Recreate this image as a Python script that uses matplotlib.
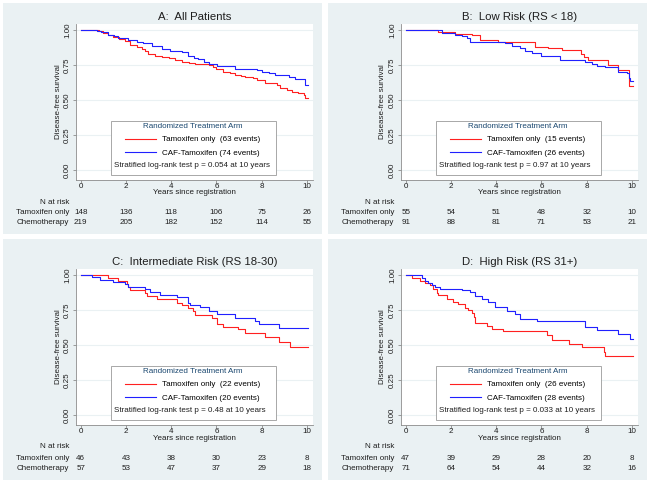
import matplotlib
matplotlib.use('Agg')
import matplotlib.pyplot as plt
from matplotlib.patches import Rectangle
from matplotlib.transforms import blended_transform_factory

plt.rcParams['font.family'] = ['Liberation Sans', 'DejaVu Sans']

# Data
titles = ['A:  All Patients', 'B:  Low Risk (RS < 18)',
          'C:  Intermediate Risk (RS 18-30)', 'D:  High Risk (RS 31+)']

tam_t = [
    [0, 0.5, 0.8, 1.0, 1.22, 1.44, 1.7, 1.96, 2.18, 2.5, 2.7, 2.85, 2.99, 3.29, 3.6, 3.9,
     4.17, 4.47, 4.8, 5.06, 5.65, 5.85, 6.0, 6.31, 6.6, 6.83, 7.1, 7.27, 7.6, 7.79, 8.15,
     8.67, 8.82, 9.1, 9.33, 9.6, 9.85, 9.92, 10.05],
    [0, 1.44, 2.18, 2.92, 3.28, 4.1, 5.72, 6.31, 6.9, 7.75, 7.9, 8.05, 8.95, 9.4, 9.85, 10.05],
    [0, 1.22, 1.66, 2.03, 2.11, 2.18, 2.84, 2.92, 3.36, 4.25, 4.47, 4.76, 4.98, 5.06, 5.8,
     6.02, 6.31, 6.97, 7.27, 8.15, 8.75, 9.26, 10.05],
    [0, 0.26, 0.63, 0.85, 1.07, 1.22, 1.37, 1.44, 1.81, 2.11, 2.33, 2.62, 2.77, 2.92, 3.0,
     3.07, 3.58, 3.8, 4.32, 6.24, 6.46, 7.2, 7.79, 8.75, 8.8, 10.05],
]
tam_s = [
    [1.0, 0.997, 0.99, 0.98, 0.965, 0.947, 0.935, 0.924, 0.89, 0.882, 0.866, 0.85, 0.828,
     0.812, 0.806, 0.797, 0.788, 0.772, 0.765, 0.755, 0.750, 0.735, 0.722, 0.70, 0.69,
     0.681, 0.672, 0.664, 0.655, 0.642, 0.622, 0.610, 0.585, 0.573, 0.558, 0.552, 0.538,
     0.512, 0.512],
    [1.0, 0.983, 0.971, 0.964, 0.929, 0.912, 0.881, 0.871, 0.855, 0.83, 0.805, 0.785,
     0.752, 0.712, 0.603, 0.603],
    [1.0, 0.981, 0.957, 0.933, 0.914, 0.893, 0.874, 0.850, 0.826, 0.802, 0.785, 0.766,
     0.743, 0.712, 0.695, 0.652, 0.628, 0.611, 0.583, 0.559, 0.525, 0.488, 0.488],
    [1.0, 0.981, 0.957, 0.945, 0.928, 0.897, 0.874, 0.855, 0.826, 0.810, 0.790, 0.766,
     0.748, 0.731, 0.70, 0.659, 0.636, 0.616, 0.600, 0.569, 0.535, 0.509, 0.486, 0.45,
     0.425, 0.425],
]
caf_t = [
    [0, 0.71, 0.9, 1.22, 1.45, 1.66, 2.11, 2.5, 2.77, 3.14, 3.58, 3.95, 4.47, 4.76, 5.0,
     5.2, 5.45, 5.65, 6.02, 6.83, 7.79, 8.01, 8.3, 8.6, 9.2, 9.48, 9.92, 10.05],
    [0, 1.6, 2.18, 2.48, 2.7, 2.84, 4.4, 4.7, 5.06, 5.28, 5.57, 6.0, 6.8, 7.93, 8.23,
     8.45, 8.82, 9.4, 9.8, 9.85, 9.92, 10.05],
    [0, 0.49, 0.85, 1.44, 1.96, 2.11, 2.84, 3.07, 3.51, 4.25, 4.76, 4.84, 5.28, 5.65,
     6.02, 6.83, 7.71, 7.86, 8.75, 10.05],
    [0, 0.71, 0.85, 1.0, 1.15, 1.29, 1.51, 2.48, 2.84, 3.07, 3.36, 3.65, 3.95, 4.47,
     4.84, 5.06, 5.8, 7.93, 8.45, 9.4, 9.92, 10.05],
]
caf_s = [
    [1.0, 0.995, 0.985, 0.967, 0.955, 0.943, 0.928, 0.918, 0.907, 0.886, 0.867, 0.848,
     0.843, 0.812, 0.800, 0.790, 0.775, 0.760, 0.740, 0.724, 0.717, 0.697, 0.690, 0.676,
     0.666, 0.648, 0.610, 0.610],
    [1.0, 0.976, 0.964, 0.957, 0.94, 0.914, 0.905, 0.886, 0.869, 0.852, 0.833, 0.817,
     0.786, 0.774, 0.757, 0.745, 0.733, 0.698, 0.69, 0.655, 0.636, 0.636],
    [1.0, 0.985, 0.964, 0.95, 0.933, 0.914, 0.897, 0.878, 0.857, 0.843, 0.802, 0.783,
     0.771, 0.743, 0.719, 0.695, 0.671, 0.648, 0.624, 0.624],
    [1.0, 0.981, 0.957, 0.945, 0.928, 0.917, 0.902, 0.892, 0.878, 0.850, 0.826, 0.807,
     0.771, 0.743, 0.724, 0.683, 0.671, 0.628, 0.607, 0.581, 0.545, 0.545],
]
tam_events = [63, 15, 22, 26]
caf_events = [74, 26, 20, 28]
p_values = ['0.054', '0.97', '0.48', '0.033']

risk_times = [0, 2, 4, 6, 8, 10]
risk_tam = [[148, 136, 118, 106, 75, 26], [55, 54, 51, 48, 32, 10],
            [46, 43, 38, 30, 23, 8], [47, 39, 29, 28, 20, 8]]
risk_chemo = [[219, 205, 182, 152, 114, 55], [91, 88, 81, 71, 53, 21],
              [57, 53, 47, 37, 29, 18], [71, 64, 54, 44, 32, 16]]

W, H = 650, 483
BG = '#EAF1F3'
AXC = '#8C8C8C'
TXT = '#1E1E1E'
FS = 5.8

fig = plt.figure(figsize=(6.5, 4.83), dpi=100)
fig.patch.set_facecolor('white')


def fig_rect(x, y, w, h):
    return [x / W, 1 - (y + h) / H, w / W, h / H]


# panel boxes and content offsets (pixels)
panels = [(3, 3, 319, 231, 0, 0), (328, 3, 319, 231, 325, 0),
          (3, 239, 319, 241, 0, 245), (328, 239, 319, 241, 325, 245)]

for i, (px, py, pw, ph, ox, oy) in enumerate(panels):
    bg = fig.add_axes(fig_rect(px, py, pw, ph), zorder=-1)
    bg.set_facecolor(BG)
    bg.set_xticks([])
    bg.set_yticks([])
    for sp in bg.spines.values():
        sp.set_visible(False)

    ax = fig.add_axes(fig_rect(ox + 76, oy + 24, 237, 156), zorder=1)
    ax.set_facecolor('white')
    ax.set_xlim(-0.207, 10.265)
    ax.set_ylim(-0.071, 1.043)

    ax.step(tam_t[i], tam_s[i], where='post', color='#FF2020', lw=0.8, zorder=3)
    ax.step(caf_t[i], caf_s[i], where='post', color='#2020FF', lw=0.8, zorder=3)

    for sp in ['top', 'right']:
        ax.spines[sp].set_visible(False)
    for sp in ['left', 'bottom']:
        ax.spines[sp].set_color(AXC)
        ax.spines[sp].set_linewidth(0.6)

    ax.set_xticks(risk_times)
    ax.set_yticks([0, 0.25, 0.5, 0.75, 1.0])
    ax.set_yticklabels(['0.00', '0.25', '0.50', '0.75', '1.00'])
    ax.tick_params(axis='both', labelsize=FS, colors=TXT, length=2,
                   width=0.6, color=AXC)
    ax.tick_params(axis='x', pad=0.5)
    ax.tick_params(axis='y', pad=1.5, labelrotation=90)
    for lab in ax.get_yticklabels():
        lab.set_va('center')
    ax.grid(axis='y', color=BG, lw=0.8, zorder=0)
    ax.set_axisbelow(True)

    ax.set_title(titles[i], fontsize=8.2, color=TXT, y=(180 - 17) / 156,
                 va='center', pad=0)
    ax.set_xlabel('Years since registration', fontsize=FS, color=TXT)
    ax.xaxis.set_label_coords(0.5, (180 - 193) / 156)
    ax.xaxis.label.set_va('center')
    ax.set_ylabel('Disease-free survival', fontsize=FS, color=TXT)
    ax.yaxis.set_label_coords((58 - 76) / 237, 0.5)
    ax.yaxis.label.set_va('center')

    # legend box
    ax.add_patch(Rectangle((0.148, 0.032), 0.696, 0.346, transform=ax.transAxes,
                           facecolor='white', edgecolor='#9A9A9A', lw=0.6,
                           zorder=4))
    leg = ax.legend(ax.get_lines(),
                    ['Tamoxifen only  (%d events)' % tam_events[i],
                     'CAF-Tamoxifen (%d events)' % caf_events[i]],
                    title='Randomized Treatment Arm', fontsize=FS,
                    title_fontsize=FS, frameon=False, loc='upper left',
                    bbox_to_anchor=(0.207, 0.365), borderpad=0,
                    borderaxespad=0, handlelength=3.8, handletextpad=0.75,
                    labelspacing=0.72)
    leg.get_title().set_color('#1A476F')
    leg.set_zorder(5)
    ax.text(0.160, 0.090, 'Stratified log-rank test p = %s at 10 years' % p_values[i],
            transform=ax.transAxes, fontsize=FS, color=TXT, va='center',
            ha='left', zorder=6)

    # number at risk table
    tr = blended_transform_factory(ax.transData, ax.transAxes)
    ax.text(-0.0295, (180 - 202) / 156, 'N at risk', transform=ax.transAxes,
            ha='right', va='center', fontsize=FS, color=TXT)
    ax.text(-0.0295, (180 - 213) / 156, 'Tamoxifen only', transform=ax.transAxes,
            ha='right', va='center', fontsize=FS, color=TXT)
    ax.text(-0.0295, (180 - 223) / 156, 'Chemotherapy', transform=ax.transAxes,
            ha='right', va='center', fontsize=FS, color=TXT)
    for t, a, b in zip(risk_times, risk_tam[i], risk_chemo[i]):
        ax.text(t, (180 - 213) / 156, str(a), transform=tr, ha='center',
                va='center', fontsize=FS, color=TXT)
        ax.text(t, (180 - 223) / 156, str(b), transform=tr, ha='center',
                va='center', fontsize=FS, color=TXT)

fig.savefig('out.png', dpi=100)
